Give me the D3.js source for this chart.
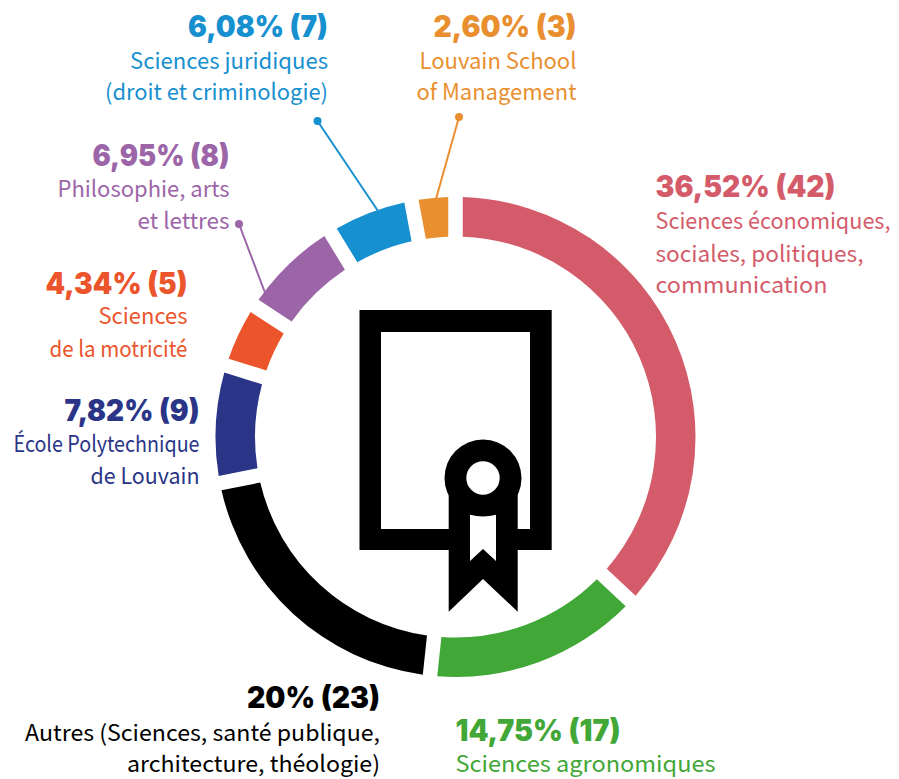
<!DOCTYPE html>
<html><head><meta charset="utf-8">
<script src="https://cdn.jsdelivr.net/npm/d3@7/dist/d3.min.js"></script>
<style>html,body{margin:0;padding:0;background:#fff}svg{display:block}
text{font-family:"Noto Sans CJK SC","Noto Sans",sans-serif}
.head{font-family:Inter,"Noto Sans",sans-serif}</style></head>
<body><div id="chart"></div>
<script>
const categories=["Sciences économiques, sociales, politiques, communication","Sciences agronomiques","Autres (Sciences, santé publique, architecture, théologie)","École Polytechnique de Louvain","Sciences de la motricité","Philosophie, arts et lettres","Sciences juridiques (droit et criminologie)","Louvain School of Management"];
const counts=[42,17,23,9,5,8,7,3];
const arcShares=[36.97,14.72,20.23,7.88,4.39,7.08,5.78,2.94]; // sweep of each ring segment, in %
const percents=["36,52%","14,75%","20%","7,82%","4,34%","6,95%","6,08%","2,60%"];
const labelLines=[["Sciences économiques,","sociales, politiques,","communication"],["Sciences agronomiques"],["Autres (Sciences, santé publique,","architecture, théologie)"],["École Polytechnique","de Louvain"],["Sciences","de la motricité"],["Philosophie, arts","et lettres"],["Sciences juridiques","(droit et criminologie)"],["Louvain School","of Management"]];
const colors=["#D45B6A","#41A737","#000000","#2A3587","#EC542B","#9C65A8","#1790D0","#E98F2F"];
// layout, kept apart from the data
const labelPos=[[655.5,197,"start"],[455.5,741,"start"],[380,708,"end"],[199.5,421,"end"],[187.5,294,"end"],[229.5,166,"end"],[328,36.5,"end"],[576.5,36.5,"end"]];
const headWidths=[180,165,133,135,142,137,140,143];
const lineBaselines=[[229,261.5,293],[772],[741,772],[452,484],[324,357],[196.5,228.5],[68.5,100],[68.5,100]];
const lineWidths=[[235,208,172],[260],[355,253],[186,109],[89,138],[172,92],[198,223],[157,160]];
const leaders=[null,null,null,null,null,[[239,224],[267,298]],[[317.5,121],[378,211]],[[459,117],[436,199]]];

const W=899,H=779,cx=455.5,cy=437,R=240,r=200.5;
const svg=d3.select("#chart").append("svg").attr("width",W).attr("height",H).attr("viewBox",[0,0,W,H]);
const pie=d3.pie().sort(null).value(d=>d);
const arc=d3.arc().innerRadius(r).outerRadius(R).padRadius(R).padAngle(14.5/R);
const g=svg.append("g").attr("transform",`translate(${cx},${cy})`);

leaders.forEach((l,i)=>{ if(!l) return;
  svg.append("line").attr("x1",l[0][0]).attr("y1",l[0][1]).attr("x2",l[1][0]).attr("y2",l[1][1]).attr("stroke",colors[i]).attr("stroke-width",2);
  svg.append("circle").attr("cx",l[0][0]).attr("cy",l[0][1]).attr("r",4).attr("fill",colors[i]);
});
g.selectAll("path").data(pie(arcShares)).join("path").attr("d",arc).attr("fill",(d,i)=>colors[i]);

// diploma icon
const icon=svg.append("g").attr("fill","#000");
icon.append("path").attr("fill-rule","evenodd").attr("d","M359.5 310H551.7V550H359.5Z M381 332V529H530V332Z");
icon.append("path").attr("d","M448.7 529H517.7V611.7L483 579L448.7 611.7Z");
icon.append("rect").attr("x",448.7).attr("y",490).attr("width",69).attr("height",45);
icon.append("circle").attr("cx",483).attr("cy",478).attr("r",38.5);
icon.append("circle").attr("cx",483).attr("cy",478).attr("r",16.7).attr("fill","#fff");
icon.append("path").attr("fill","#fff").attr("d","M470 514.8Q483 518 496 514.8V561L483 549L470 561Z");

// labels
counts.forEach((c,i)=>{
  const [x,y,anchor]=labelPos[i];
  svg.append("text").attr("class","head").attr("x",x).attr("y",y).attr("text-anchor",anchor).attr("fill",colors[i])
    .attr("font-size",29.5).attr("font-weight",900)
    .attr("textLength",headWidths[i]).attr("lengthAdjust","spacingAndGlyphs").text(`${percents[i]} (${c})`);
  labelLines[i].forEach((t,j)=>{
    svg.append("text").attr("x",x).attr("y",lineBaselines[i][j]).attr("text-anchor",anchor).attr("fill",colors[i])
      .attr("font-size",22.5).attr("font-weight",400)
      .attr("textLength",lineWidths[i][j]).attr("lengthAdjust","spacingAndGlyphs").text(t);
  });
});
</script></body></html>
